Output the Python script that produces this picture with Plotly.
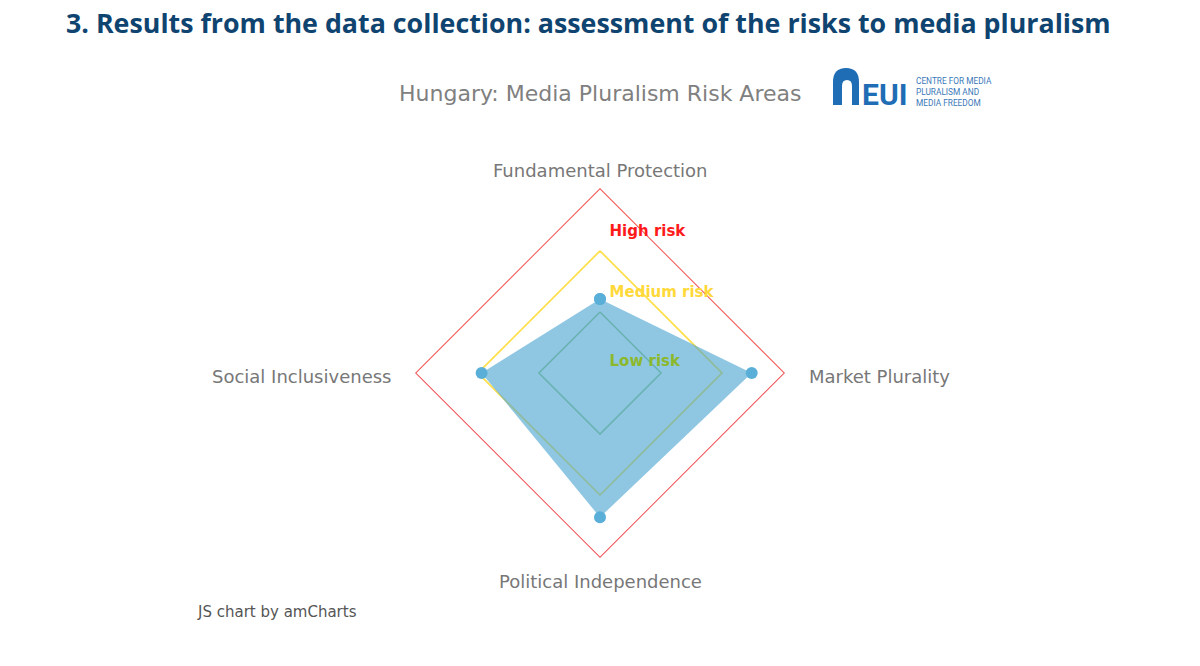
import plotly.graph_objects as go

# risk areas and Hungary's scores (%)
areas = ["Fundamental Protection", "Market Plurality", "Political Independence", "Social Inclusiveness"]
scores = [40, 82, 78, 64]

# risk band boundaries and their labels
band_names = ["Low risk", "Medium risk", "High risk"]
band_limits = [33, 66, 100]
band_label_r = [6, 43, 76]

W, H = 1200, 666
cx, cy, R = 600, 373, 185


def px(x):
    return x / W


def py(y):
    return 1 - y / H


fig = go.Figure()

line_colors = ["#9cc97a", "#ffe050", "#f05555"]
line_widths = [1.6, 1.8, 2]
text_colors = ["#8cb82b", "#ffd83a", "#ff1a1a"]

for name, lim, col, lw in zip(band_names, band_limits, line_colors, line_widths):
    fig.add_trace(go.Scatterpolar(
        r=[lim] * (len(areas) + 1),
        theta=areas + areas[:1],
        mode="lines",
        line=dict(color=col, width=lw),
        hoverinfo="skip",
        showlegend=False,
    ))

fig.add_trace(go.Scatterpolar(
    r=scores + scores[:1],
    theta=areas + areas[:1],
    mode="markers",
    fill="toself",
    fillcolor="rgba(75,165,210,0.62)",
    line=dict(color="rgba(0,0,0,0)", width=0),
    marker=dict(color="#5aafd9", size=12),
    name="Hungary",
    showlegend=False,
))

fig.add_trace(go.Scatterpolar(
    r=band_label_r,
    theta=[areas[0]] * 3,
    mode="text",
    text=["\u00a0\u00a0<b>%s</b>" % n for n in band_names],
    textposition="middle right",
    textfont=dict(family="DejaVu Sans", size=15, color=text_colors),
    hoverinfo="skip",
    showlegend=False,
))

fig.update_layout(
    width=W,
    height=H,
    margin=dict(l=0, r=0, t=0, b=0),
    paper_bgcolor="white",
    plot_bgcolor="white",
    polar=dict(
        domain=dict(x=[px(cx - R), px(cx + R)], y=[py(cy + R), py(cy - R)]),
        bgcolor="rgba(0,0,0,0)",
        gridshape="linear",
        radialaxis=dict(range=[0, 100], visible=False),
        angularaxis=dict(
            rotation=90,
            direction="clockwise",
            showgrid=False,
            showline=False,
            ticks="",
            showticklabels=False,
        ),
    ),
    font=dict(family="DejaVu Sans"),
)

# category labels around the diamond (top, right, bottom, left)
label_pos = [(cx, cy - R - 18, "center"), (cx + R + 22, cy + 3, "left"),
             (cx, cy + R + 23, "center"), (cx - R - 22, cy + 3, "right")]
for name, (lx, ly, anchor) in zip(areas, label_pos):
    fig.add_annotation(
        x=px(lx), y=py(ly), xref="paper", yref="paper", xanchor=anchor, yanchor="middle",
        text=name, showarrow=False,
        font=dict(family="DejaVu Sans", size=18, color="#777777"),
    )

# page heading
fig.add_annotation(
    x=px(64), y=py(23), xref="paper", yref="paper", xanchor="left", yanchor="middle",
    text="<b>3. Results from the data collection: assessment of the risks to media pluralism</b>",
    showarrow=False, font=dict(family="Open Sans", size=26.8, color="#0f4470"),
)

# chart title
fig.add_annotation(
    x=px(600), y=py(93), xref="paper", yref="paper", xanchor="center", yanchor="middle",
    text="Hungary: Media Pluralism Risk Areas",
    showarrow=False, font=dict(family="DejaVu Sans", size=22, color="#808080"),
)

# EUI logo: arch + letters + small caption
blue = "#1f6db5"
fig.add_shape(type="path", xref="paper", yref="paper",
              path="M %f,%f L %f,%f Q %f,%f %f,%f Q %f,%f %f,%f L %f,%f Z" % (
                  px(833), py(105), px(833), py(82), px(833), py(68), px(846), py(68),
                  px(859), py(68), px(859), py(82), px(859), py(105)),
              fillcolor=blue, line=dict(width=0))
fig.add_shape(type="path", xref="paper", yref="paper",
              path="M %f,%f L %f,%f Q %f,%f %f,%f Q %f,%f %f,%f L %f,%f Z" % (
                  px(842), py(105), px(842), py(86), px(842), py(80), px(847), py(80),
                  px(852), py(80), px(852), py(86), px(852), py(105)),
              fillcolor="white", line=dict(width=0))
fig.add_annotation(
    x=px(860), y=py(95), xref="paper", yref="paper", xanchor="left", yanchor="middle",
    text="<b>EUI</b>", showarrow=False,
    font=dict(family="Roboto", size=30, color=blue),
)
fig.add_annotation(
    x=px(914), y=py(92), xref="paper", yref="paper", xanchor="left", yanchor="middle",
    text="CENTRE FOR MEDIA<br>PLURALISM AND<br>MEDIA FREEDOM", align="left", showarrow=False,
    font=dict(family="Roboto", size=8.3, color="#3a78b8"),
)

# credit
fig.add_annotation(
    x=px(195), y=py(612), xref="paper", yref="paper", xanchor="left", yanchor="middle",
    text="JS chart by amCharts", showarrow=False,
    font=dict(family="DejaVu Sans", size=15, color="#555555"),
)

fig.write_html("out.html", config={"displayModeBar": False},
               post_script="document.body.style.margin = '0';")
